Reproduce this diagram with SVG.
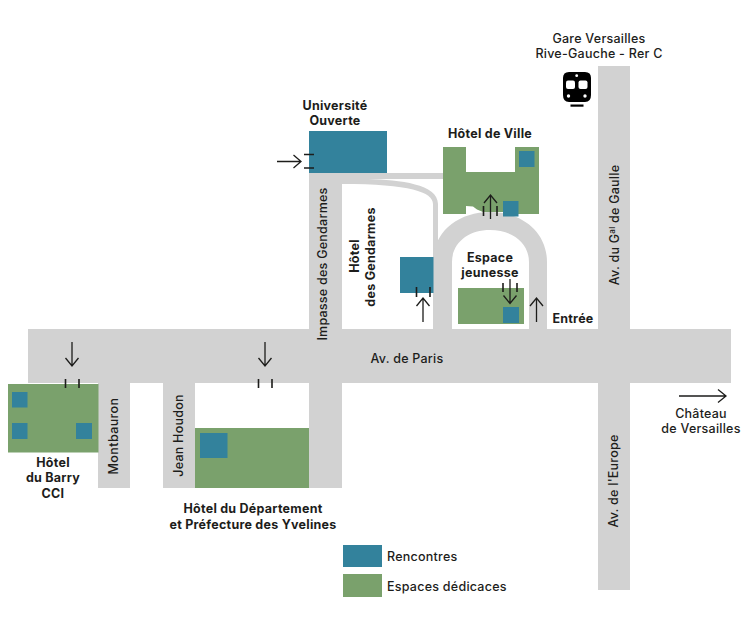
<svg xmlns="http://www.w3.org/2000/svg" width="754" height="627" viewBox="0 0 754 627">
<style>
.road{fill:#d2d2d2}
.green{fill:#7aa16c}
.blue{fill:#33829c}
.ln{fill:none;stroke:#1d1d1b;stroke-width:1.3}
.tk{fill:none;stroke:#1d1d1b;stroke-width:1.6}
text{font-family:"Inter","Liberation Sans",sans-serif;font-size:12.5px;fill:#1d1d1b;text-anchor:middle;letter-spacing:.25px}
.b{font-weight:700}
.m{font-weight:500}
</style>
<defs>
<path id="up" class="ln" d="M0 24V0M-6.500 8L0 0L6.500 8"/>
</defs>
<rect width="754" height="627" fill="#fff"/>
<g id="roads">
<rect class="road" x="28" y="329" width="703" height="54"/>
<rect class="road" x="598" y="66" width="32" height="524"/>
<rect class="road" x="309" y="172" width="33" height="316"/>
<rect class="road" x="98" y="383" width="32" height="105"/>
<rect class="road" x="163" y="383" width="32" height="105"/>
<rect class="road" x="342" y="173" width="102" height="6"/>
<path class="road" d="M342 179H368C400 180 438 184 438 204V240H452V329H433V204C433 192 410 184 342 184Z"/>
<path class="road" d="M433 329V262C433 232 458 212 490 212C522 212 547 232 547 262V329H529V262C529 243 512 230 490 230C468 230 452 243 452 262V329Z"/>
</g>
<g id="hotel-de-ville">
<path class="green" d="M443 147H466V172H515V147H539V214H518V212H483L477 209.500L473 206.500L466 206V214H443Z"/>
<rect class="blue" x="519" y="151" width="15.500" height="16"/>
<rect class="blue" x="503" y="201" width="15.500" height="15.500"/>
<text class="b" x="490" y="138">Hôtel de Ville</text>
<path class="tk" d="M483.500 206V216M497 206V216"/>
<use href="#up" x="490.500" y="195"/>
</g>
<g id="universite-ouverte">
<rect class="blue" x="309" y="131" width="78" height="42"/>
<text class="b" x="335" y="110">Université</text>
<text class="b" x="335" y="125">Ouverte</text>
<path class="tk" d="M304 154.500H314M304 168H314"/>
<path class="ln" d="M277 161.500H301M293.500 155L301 161.500L293.500 168"/>
</g>
<g id="hotel-gendarmes">
<rect class="blue" x="400" y="257" width="33.500" height="36"/>
<text class="b" transform="translate(359 256) rotate(-90)">Hôtel</text>
<text class="b" transform="translate(375 257) rotate(-90)">des Gendarmes</text>
<path class="tk" d="M416.500 287V297M430 287V297"/>
<use href="#up" x="423" y="298"/>
</g>
<g id="espace-jeunesse">
<rect class="green" x="458" y="288" width="66" height="36"/>
<rect class="blue" x="503" y="307" width="16" height="16"/>
<text class="b" x="490" y="262">Espace</text>
<text class="b" x="490" y="277">jeunesse</text>
<path class="tk" d="M503 283V292M517 283V292"/>
<path class="ln" d="M510 279V303.500M503.500 295.500L510 303.500L516.500 295.500"/>
</g>
<g id="hotel-du-barry">
<rect class="green" x="8" y="384" width="90.500" height="68.500"/>
<rect class="blue" x="12" y="392" width="15.500" height="15.500"/>
<rect class="blue" x="12" y="423" width="15.500" height="16"/>
<rect class="blue" x="76" y="423" width="16" height="16"/>
<text class="b" x="53" y="467">Hôtel</text>
<text class="b" x="53" y="482">du Barry</text>
<text class="b" x="53" y="498">CCI</text>
<path class="tk" d="M65.500 379V388M79 379V388"/>
<path class="ln" d="M72 342V366M65.500 358L72 366L78.500 358"/>
</g>
<g id="hotel-departement">
<rect class="green" x="195" y="428" width="114" height="60"/>
<rect class="blue" x="200" y="433" width="27.500" height="25"/>
<text class="b" x="253" y="513">Hôtel du Département</text>
<text class="b" x="253" y="529">et Préfecture des Yvelines</text>
<path class="tk" d="M258.500 379V388M272 379V388"/>
<path class="ln" d="M265 342V366M258.500 358L265 366L271.500 358"/>
</g>
<g id="gare">
<text class="m" x="599" y="43">Gare Versailles</text>
<text class="m" x="599" y="58">Rive-Gauche - Rer C</text>
<path fill="#000" d="M569 72H585Q591 72 591 78V95Q591 102 585 102H569Q563 102 563 95V78Q563 72 569 72Z"/>
<rect x="570.500" y="104.500" width="13" height="2.200" fill="#000"/>
<circle cx="576.700" cy="75.700" r="1.400" fill="#fff"/>
<rect x="566" y="80.500" width="9" height="8.500" rx="2" fill="#fff"/>
<rect x="578.500" y="80.500" width="9" height="8.500" rx="2" fill="#fff"/>
<circle cx="568.500" cy="96" r="1.700" fill="#fff"/>
<circle cx="585" cy="96" r="1.700" fill="#fff"/>
</g>
<g id="road-labels">
<text class="m" x="407" y="363">Av. de Paris</text>
<text class="m" transform="translate(327 264) rotate(-90)">Impasse des Gendarmes</text>
<text class="m" transform="translate(118 436) rotate(-90)" style="letter-spacing:.4px">Montbauron</text>
<text class="m" transform="translate(183 435.500) rotate(-90)">Jean Houdon</text>
<text class="m" transform="translate(619 225) rotate(-90)">Av. du G<tspan font-size="8" dy="-4">al</tspan><tspan dy="4"> de Gaulle</tspan></text>
<text class="m" transform="translate(618 481) rotate(-90)">Av. de l'Europe</text>
</g>
<g id="entree">
<text class="b" x="573" y="323">Entrée</text>
<use href="#up" x="536.500" y="298"/>
</g>
<g id="chateau">
<text class="m" x="701" y="418">Château</text>
<text class="m" x="701" y="433">de Versailles</text>
<path class="ln" d="M679 396H726M718 389.500L726 396L718 402.500"/>
</g>
<g id="legend">
<rect class="blue" x="343" y="545" width="39" height="22"/>
<rect class="green" x="343" y="574" width="39" height="23"/>
<text class="m" x="387" y="561" style="text-anchor:start">Rencontres</text>
<text class="m" x="387" y="591" style="text-anchor:start">Espaces dédicaces</text>
</g>
</svg>
